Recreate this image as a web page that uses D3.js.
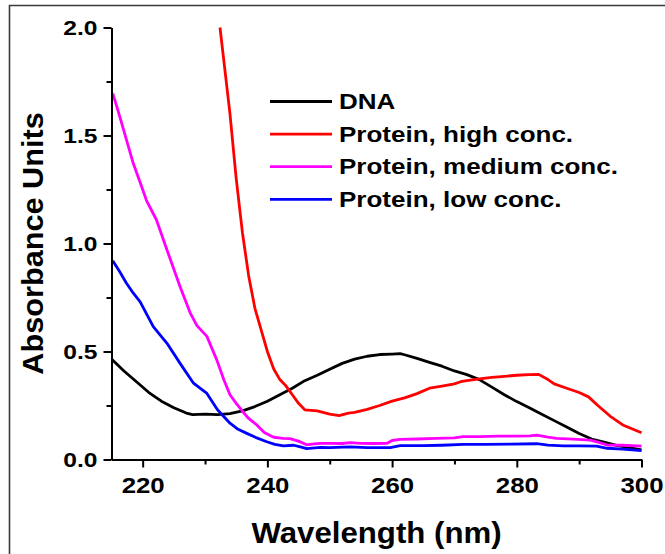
<!DOCTYPE html>
<html>
<head>
<meta charset="utf-8">
<script src="https://cdn.jsdelivr.net/npm/d3@7"></script>
<style>
  html, body { margin: 0; padding: 0; background: #ffffff; }
  svg { display: block; }
  text { font-family: "Liberation Sans", Arial, sans-serif; font-weight: bold; fill: #000; }
</style>
</head>
<body>
<svg id="chart" width="665" height="554"></svg>
<script>
// UV absorbance spectra: [wavelength (nm), absorbance]
const dnaSpectrum = [
  [215, 0.465], [217, 0.41], [219, 0.36], [221, 0.31], [223, 0.27], [225, 0.24],
  [227, 0.215], [228, 0.208], [230, 0.21], [232, 0.208], [234, 0.212], [236, 0.225],
  [238, 0.245], [240, 0.27], [242, 0.3], [244, 0.33], [246, 0.365], [248, 0.39],
  [250, 0.418], [252, 0.445], [254, 0.465], [256, 0.478], [258, 0.486], [260, 0.488],
  [261.3, 0.49], [262, 0.485], [264, 0.468], [266, 0.45], [268, 0.432], [270, 0.41],
  [272, 0.393], [274, 0.37], [276, 0.335], [278, 0.3], [280, 0.268], [282, 0.24],
  [284, 0.21], [286, 0.18], [288, 0.15], [290, 0.12], [292, 0.095], [294, 0.08],
  [296, 0.065], [298, 0.055], [300, 0.045]
];
const proteinHigh = [
  [232.4, 2.0], [233, 1.85], [234, 1.6], [235, 1.3], [236, 1.05], [237, 0.85],
  [238, 0.7], [239, 0.6], [240, 0.5], [241, 0.42], [242, 0.37], [243, 0.34],
  [244, 0.3], [245, 0.26], [246, 0.23], [248, 0.225], [250, 0.21], [251.5, 0.203],
  [253, 0.215], [254, 0.218], [256, 0.232], [258, 0.25], [260, 0.27], [262, 0.285],
  [264, 0.305], [266, 0.33], [268, 0.34], [270, 0.35], [271, 0.36], [272, 0.365],
  [274, 0.373], [276, 0.38], [278, 0.385], [280, 0.39], [282, 0.393], [283.5, 0.394],
  [285, 0.37], [286, 0.35], [288, 0.33], [290, 0.31], [291.5, 0.29], [293, 0.25],
  [295, 0.2], [297, 0.16], [300, 0.124]
];
const proteinMedium = [
  [215.2, 1.695], [216, 1.62], [217, 1.52], [218.5, 1.37], [220, 1.25], [220.6, 1.2],
  [222.2, 1.11], [223.9, 0.97], [226, 0.8], [227.6, 0.68], [228.7, 0.62], [230.3, 0.57],
  [231.9, 0.46], [233, 0.37], [234, 0.3], [235, 0.26], [236.1, 0.22], [237, 0.19],
  [238.3, 0.16], [239.5, 0.125], [241, 0.103], [242.5, 0.098], [243.6, 0.097],
  [245, 0.085], [246.3, 0.068], [247.5, 0.072], [248.5, 0.075], [250, 0.075],
  [252, 0.074], [253.3, 0.078], [255, 0.075], [257, 0.074], [259.2, 0.075],
  [260, 0.088], [261.3, 0.093], [264, 0.095], [267, 0.098], [270, 0.1], [271.4, 0.106],
  [274, 0.106], [277, 0.108], [280, 0.108], [282.1, 0.109], [283.2, 0.113],
  [285, 0.104], [286.4, 0.098], [289, 0.094], [291.8, 0.09], [293, 0.08],
  [294.5, 0.067], [297, 0.066], [300, 0.062]
];
const proteinLow = [
  [215.2, 0.92], [216.3, 0.87], [217.4, 0.816], [218.5, 0.77], [219.6, 0.73],
  [221.7, 0.615], [223.9, 0.538], [226, 0.445], [228.1, 0.355], [229.2, 0.33],
  [230.3, 0.306], [232, 0.23], [234, 0.168], [235.3, 0.14], [236.7, 0.121],
  [238.3, 0.1], [239.9, 0.082], [241.2, 0.07], [242.6, 0.063], [244.2, 0.066],
  [245.3, 0.058], [246.3, 0.05], [248.5, 0.056], [250, 0.055], [253.3, 0.058],
  [256, 0.055], [259.7, 0.055], [261.3, 0.064], [265, 0.064], [268, 0.066],
  [271.4, 0.07], [275, 0.07], [279, 0.071], [283.2, 0.073], [285, 0.067],
  [287.5, 0.063], [290, 0.063], [292.8, 0.062], [294.5, 0.052], [297, 0.048],
  [300, 0.041]
];

const seriesNames = ["DNA", "Protein, high conc.", "Protein, medium conc.", "Protein, low conc."];
const seriesColors = ["#000000", "#ff0000", "#ff00ff", "#0000ff"];
const seriesData = [dnaSpectrum, proteinHigh, proteinMedium, proteinLow];

const xTicks = [220, 240, 260, 280, 300];
const xMinorTicks = [230, 250, 270, 290];
const yTicks = [0.0, 0.5, 1.0, 1.5, 2.0];
const yMinorTicks = [0.25, 0.75, 1.25, 1.75];

const xTitle = "Wavelength (nm)";
const yTitle = "Absorbance Units";

// ---- layout ----
const plot = { left: 111.5, right: 641.5, top: 27.5, bottom: 459.5 };
const tickStretch = 1.2;
const legendStretch = 1.21;

const svg = d3.select("#chart");

// outer frame (top and left edges)
svg.append("path")
  .attr("d", "M9.5,554 L9.5,5.5 L665,5.5")
  .attr("fill", "none")
  .attr("stroke", "#3a3a3a")
  .attr("stroke-width", 1.6);

const x = d3.scaleLinear().domain([215, 300]).range([plot.left, plot.right]);
const y = d3.scaleLinear().domain([0, 2.0]).range([plot.bottom, plot.top]);

svg.append("defs").append("clipPath").attr("id", "plotClip")
  .append("rect")
  .attr("x", plot.left).attr("y", plot.top - 2)
  .attr("width", plot.right - plot.left + 2)
  .attr("height", plot.bottom - plot.top + 2);

// spectra
const line = d3.line().x(d => x(d[0])).y(d => y(d[1]));
const linesG = svg.append("g").attr("clip-path", "url(#plotClip)");
seriesData.forEach((data, i) => {
  linesG.append("path")
    .datum(data)
    .attr("d", line)
    .attr("fill", "none")
    .attr("stroke", seriesColors[i])
    .attr("stroke-width", 2.8)
    .attr("stroke-linejoin", "round");
});

// axes
function styleAxis(g) {
  g.select(".domain").attr("stroke", "#000").attr("stroke-width", 2);
  g.selectAll(".tick line").attr("stroke", "#000").attr("stroke-width", 2);
}

const xAxis = svg.append("g")
  .attr("transform", `translate(0,${plot.bottom})`)
  .call(d3.axisBottom(x).tickValues(xTicks).tickSize(8).tickSizeOuter(0).tickFormat(d3.format("d")));
styleAxis(xAxis);
xAxis.selectAll(".tick text")
  .attr("y", null).attr("dy", null)
  .attr("font-size", 21.5)
  .attr("text-anchor", "middle")
  .attr("transform", `translate(0,33.5) scale(${tickStretch},1)`);

svg.append("g")
  .attr("transform", `translate(0,${plot.bottom})`)
  .call(d3.axisBottom(x).tickValues(xMinorTicks).tickSize(5).tickSizeOuter(0).tickFormat(""))
  .call(g => { g.select(".domain").remove(); g.selectAll(".tick line").attr("stroke", "#000").attr("stroke-width", 2); });

const yAxis = svg.append("g")
  .attr("transform", `translate(${plot.left},0)`)
  .call(d3.axisLeft(y).tickValues(yTicks).tickSize(8).tickSizeOuter(0).tickFormat(d3.format(".1f")));
styleAxis(yAxis);
yAxis.selectAll(".tick text")
  .attr("x", null).attr("dy", null)
  .attr("font-size", 20.5)
  .attr("text-anchor", "end")
  .attr("transform", `translate(-14,7.4) scale(${tickStretch},1)`);

svg.append("g")
  .attr("transform", `translate(${plot.left},0)`)
  .call(d3.axisLeft(y).tickValues(yMinorTicks).tickSize(5).tickSizeOuter(0).tickFormat(""))
  .call(g => { g.select(".domain").remove(); g.selectAll(".tick line").attr("stroke", "#000").attr("stroke-width", 2); });

// axis titles
svg.append("text")
  .attr("transform", `translate(${(plot.left + plot.right) / 2},543) scale(1.04,1)`)
  .attr("text-anchor", "middle")
  .attr("font-size", 30)
  .text(xTitle);

svg.append("text")
  .attr("transform", `translate(43,${(plot.top + plot.bottom) / 2}) rotate(-90) scale(1.04,1)`)
  .attr("text-anchor", "middle")
  .attr("font-size", 29.5)
  .text(yTitle);

// legend
const legend = svg.append("g");
seriesNames.forEach((name, i) => {
  const ly = 101.5 + i * 32.6;
  legend.append("line")
    .attr("x1", 270).attr("x2", 332)
    .attr("y1", ly).attr("y2", ly)
    .attr("stroke", seriesColors[i])
    .attr("stroke-width", 2.8);
  legend.append("text")
    .attr("transform", `translate(339,${ly + 7.6}) scale(${legendStretch},1)`)
    .attr("font-size", 21.5)
    .text(name);
});
</script>
</body>
</html>
